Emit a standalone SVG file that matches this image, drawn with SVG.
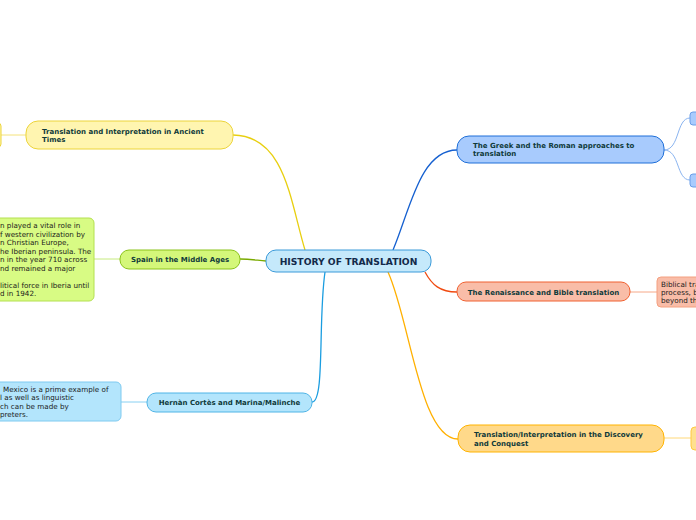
<svg xmlns="http://www.w3.org/2000/svg" width="696" height="520" viewBox="0 0 696 520">
<style>
  .t { font-family: "DejaVu Sans", Verdana, sans-serif; font-weight: bold; font-size: 7px; fill: #0f3a3a; }
  .leaf { font-family: "DejaVu Sans", Verdana, sans-serif; font-size: 7.2px; fill: #1a1a1a; }
  .c { fill: none; stroke-width: 1.3; }
  .l { fill: none; stroke-width: 1; }
</style>
<rect width="696" height="520" fill="#ffffff"/>
<g id="connectors">
  <path class="c" d="M305,250 C290,200 285,136 233,135" stroke="#e8cf10"/>
  <path class="c" d="M266,261 C255,260 250,259 240,259" stroke="#7aaa00"/>
  <path class="c" d="M325,272 C318,320 325,402 312,402" stroke="#1a9de0"/>
  <path class="c" d="M393,250 C410,210 420,150 457,150" stroke="#1560d0"/>
  <path class="c" d="M425,272 C432,285 440,292 457,292" stroke="#f04a10"/>
  <path class="c" d="M388,272 C410,320 420,439 458,439" stroke="#ffb000"/>
  <path class="l" d="M26,135 L0,135" stroke="#f4e27a"/>
  <path class="l" d="M120,259 L94,259" stroke="#c6ea7e"/>
  <path class="l" d="M147,402 L121,402" stroke="#88d0f2"/>
  <path class="l" d="M664,150 C680,150 676,118 690,118" stroke="#8ab4f0"/>
  <path class="l" d="M664,150 C680,150 676,180 690,180" stroke="#8ab4f0"/>
  <path class="l" d="M630,292 L657,292" stroke="#f6a888"/>
  <path class="l" d="M664,438 L691,438" stroke="#ffd878"/>
</g>
<g id="center">
  <rect x="266" y="250" width="165" height="22" rx="10" fill="#c5e9fb" stroke="#3a9ad9" stroke-width="1"/>
  <text x="348.5" y="264.5" text-anchor="middle" style="font-family:'DejaVu Sans',Verdana,sans-serif;font-weight:bold;font-size:9.2px;fill:#132a4a">HISTORY OF TRANSLATION</text>
</g>
<g id="ancient">
  <rect x="26" y="121" width="207" height="28" rx="12" fill="#fff5b0" stroke="#ecd43a"/>
  <text class="t" x="42" y="134">Translation and Interpretation in Ancient</text>
  <text class="t" x="42" y="142">Times</text>
</g>
<g id="ancient-leaf">
  <rect x="-20" y="123" width="21" height="24" rx="3" fill="#fff5b0" stroke="#ecd43a"/>
</g>
<g id="spain">
  <rect x="120" y="250" width="120" height="19" rx="9" fill="#d4f77a" stroke="#8bc31a"/>
  <text class="t" x="180" y="262" text-anchor="middle">Spain in the Middle Ages</text>
</g>
<g id="spain-leaf">
  <rect x="-20" y="218" width="114" height="83" rx="5" fill="#d8fb84" stroke="#b4e050"/>
  <text class="leaf" x="0" y="228">n played a vital role in</text>
  <text class="leaf" x="0" y="237">f western civilization by</text>
  <text class="leaf" x="0" y="245">n Christian Europe,</text>
  <text class="leaf" x="0" y="254">he Iberian peninsula. The</text>
  <text class="leaf" x="0" y="262">n in the year 710 across</text>
  <text class="leaf" x="0" y="271">nd remained a major</text>
  <text class="leaf" x="0" y="288">litical force in Iberia until</text>
  <text class="leaf" x="0" y="296">d in 1942.</text>
</g>
<g id="cortes">
  <rect x="147" y="393" width="165" height="19" rx="9" fill="#b3e5fc" stroke="#4fb4e6"/>
  <text class="t" x="229.5" y="405" text-anchor="middle">Hernàn Cortès and Marina/Malinche</text>
</g>
<g id="cortes-leaf">
  <rect x="-20" y="382" width="141" height="39" rx="5" fill="#b3e5fc" stroke="#7fcaf0"/>
  <text class="leaf" x="3" y="392">Mexico is a prime example of</text>
  <text class="leaf" x="0" y="400">l as well as linguistic</text>
  <text class="leaf" x="0" y="409">ch can be made by</text>
  <text class="leaf" x="0" y="417">preters.</text>
</g>
<g id="greek">
  <rect x="457" y="136" width="207" height="27" rx="12" fill="#a8cbfd" stroke="#1f6fd8"/>
  <text class="t" x="473" y="148">The Greek and the Roman approaches to</text>
  <text class="t" x="473" y="156">translation</text>
</g>
<g id="greek-leaf-1">
  <rect x="690" y="112" width="20" height="13" rx="3" fill="#a8cbfd" stroke="#6a9ee8"/>
</g>
<g id="greek-leaf-2">
  <rect x="690" y="174" width="20" height="13" rx="3" fill="#a8cbfd" stroke="#6a9ee8"/>
</g>
<g id="renaissance">
  <rect x="457" y="282" width="173" height="19" rx="9" fill="#f9bda8" stroke="#f06030"/>
  <text class="t" x="543.5" y="295" text-anchor="middle">The Renaissance and Bible translation</text>
</g>
<g id="renaissance-leaf">
  <rect x="657" y="277" width="60" height="30" rx="4" fill="#f9bda8" stroke="#f4a080"/>
  <text class="leaf" x="661" y="287">Biblical tra</text>
  <text class="leaf" x="661" y="295">process, b</text>
  <text class="leaf" x="661" y="303">beyond th</text>
</g>
<g id="discovery">
  <rect x="458" y="425" width="206" height="27" rx="12" fill="#ffd98a" stroke="#ffb300"/>
  <text class="t" x="474" y="437">Translation/Interpretation in the Discovery</text>
  <text class="t" x="474" y="446">and Conquest</text>
</g>
<g id="discovery-leaf">
  <rect x="691" y="427" width="20" height="23" rx="4" fill="#ffe08f" stroke="#ffc840"/>
</g>
</svg>
